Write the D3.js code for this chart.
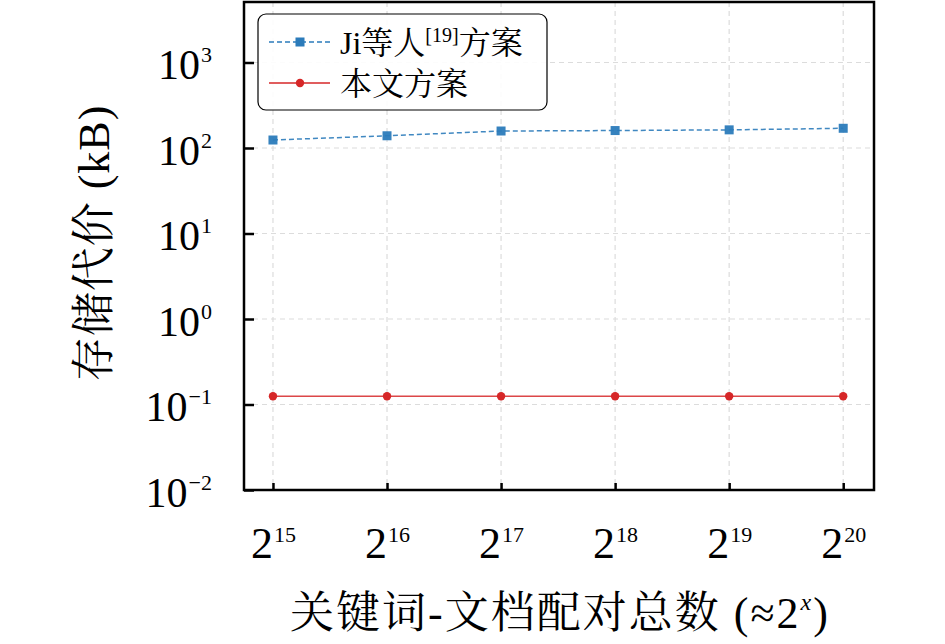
<!DOCTYPE html>
<html><head><meta charset="utf-8">
<script src="https://cdn.jsdelivr.net/npm/d3@7"></script>
<style>body{margin:0;background:#fff}svg{display:block}</style>
</head><body>
<script>
const exponents = [15, 16, 17, 18, 19, 20];
const jiValues = [124, 139, 158, 160, 163, 170];
const oursValues = [0.125, 0.125, 0.125, 0.125, 0.125, 0.125];
const yTickExps = [-2, -1, 0, 1, 2, 3];
const seriesNames = ["Ji等人", "[19]", "方案"];
const oursName = "本文方案";

const W = 945, H = 644;
const L = 244, R = 874, T = 2, B = 490;
const serif = '"Liberation Serif","Times New Roman",serif';
const cjk = '"Liberation Serif","Noto Serif CJK SC","Noto Sans CJK SC",serif';

const svg = d3.select("body").append("svg").attr("width", W).attr("height", H);

const x = d3.scaleLinear().domain([14.746, 20.27]).range([L, R]);
const y = d3.scaleLog().domain([0.01, 5100]).range([B, T]);

// grid
const g = svg.append("g");
g.selectAll(".vg").data(exponents).join("line")
  .attr("x1", d => x(d)).attr("x2", d => x(d)).attr("y1", T).attr("y2", B)
  .attr("stroke", "#dcdcdc").attr("stroke-width", 1.2).attr("stroke-dasharray", "5,4");
g.selectAll(".hg").data(yTickExps).join("line")
  .attr("x1", L).attr("x2", R).attr("y1", d => y(Math.pow(10, d))).attr("y2", d => y(Math.pow(10, d)))
  .attr("stroke", "#dcdcdc").attr("stroke-width", 1.2).attr("stroke-dasharray", "5,4");

// axes
const xAxis = d3.axisBottom(x).tickValues(exponents).tickSize(-7).tickFormat("");
const yAxis = d3.axisLeft(y).tickValues(yTickExps.map(e => Math.pow(10, e))).tickSize(-10).tickFormat("");
const xg = svg.append("g").attr("transform", `translate(0,${B})`).call(xAxis);
const yg = svg.append("g").attr("transform", `translate(${L},0)`).call(yAxis);
[xg, yg].forEach(a => {
  a.select(".domain").remove();
  a.selectAll(".tick line").attr("stroke", "#000").attr("stroke-width", 2.5);
});

// frame
svg.append("rect").attr("x", L).attr("y", T).attr("width", R - L).attr("height", B - T)
  .attr("fill", "none").attr("stroke", "#000").attr("stroke-width", 2.5);

// x tick labels
xg.selectAll(".tick").each(function(d) {
  const t = d3.select(this).append("text").attr("y", 68).attr("text-anchor", "middle")
    .style("font-family", serif).attr("fill", "#000");
  t.append("tspan").attr("font-size", 44).text("2");
  t.append("tspan").attr("font-size", 22).attr("dx", 1).attr("dy", -16).text(d);
});
// y tick labels
yg.selectAll(".tick").each(function(d) {
  const e = Math.round(Math.log10(d));
  const t = d3.select(this).append("text").attr("x", -32).attr("y", 16.5).attr("text-anchor", "end")
    .style("font-family", serif).attr("fill", "#000");
  t.append("tspan").attr("font-size", 42).text("10");
  t.append("tspan").attr("font-size", 22).attr("dx", 1).attr("dy", -17).text(e < 0 ? "\u2212" + (-e) : e);
});

// lines
const pts = vals => vals.map((v, i) => [exponents[i], v]);
const line = d3.line().x(d => x(d[0])).y(d => y(d[1]));
const blue = "#2b7bba", red = "#d62728";
svg.append("path").datum(pts(jiValues)).attr("d", line).attr("fill", "none")
  .attr("stroke", blue).attr("stroke-width", 1.5).attr("stroke-dasharray", "5,3").attr("opacity", 0.9);
svg.selectAll(".sq").data(pts(jiValues)).join("rect")
  .attr("x", d => x(d[0]) - 4.5).attr("y", d => y(d[1]) - 4.5).attr("width", 9).attr("height", 9)
  .attr("fill", blue).attr("opacity", 0.95);
svg.append("path").datum(pts(oursValues)).attr("d", line).attr("fill", "none")
  .attr("stroke", red).attr("stroke-width", 1.5).attr("opacity", 0.85);
svg.selectAll(".ci").data(pts(oursValues)).join("circle")
  .attr("cx", d => x(d[0])).attr("cy", d => y(d[1])).attr("r", 4.2).attr("fill", red);

// legend
const lg = svg.append("g");
lg.append("rect").attr("x", 258).attr("y", 14).attr("width", 289).attr("height", 96).attr("rx", 8)
  .attr("fill", "#fff").attr("fill-opacity", 0.9).attr("stroke", "#000").attr("stroke-width", 1.2);
lg.append("line").attr("x1", 269).attr("x2", 330).attr("y1", 42).attr("y2", 42)
  .attr("stroke", blue).attr("stroke-width", 1.5).attr("stroke-dasharray", "5,3");
lg.append("rect").attr("x", 295.5).attr("y", 37.5).attr("width", 9).attr("height", 9).attr("fill", blue);
lg.append("line").attr("x1", 269).attr("x2", 330).attr("y1", 83).attr("y2", 83)
  .attr("stroke", red).attr("stroke-width", 1.5);
lg.append("circle").attr("cx", 300).attr("cy", 83).attr("r", 4.2).attr("fill", red);
const lt = lg.append("text").attr("x", 340).attr("y", 54).style("font-family", cjk).attr("fill", "#000");
lt.append("tspan").attr("font-size", 32).text(seriesNames[0]);
lt.append("tspan").attr("font-size", 20).attr("dy", -12).text(seriesNames[1]);
lt.append("tspan").attr("font-size", 32).attr("dy", 12).text(seriesNames[2]);
lg.append("text").attr("x", 340).attr("y", 95).style("font-family", cjk).attr("font-size", 32)
  .attr("fill", "#000").text(oursName);

// axis titles
const xt = svg.append("text").attr("x", 560).attr("y", 628).attr("text-anchor", "middle")
  .style("font-family", cjk).style("letter-spacing", "2px").attr("fill", "#000").attr("font-size", 44);
xt.append("tspan").text("关键词-文档配对总数 (≈2");
xt.append("tspan").attr("font-size", 24).attr("font-style", "italic").attr("dy", -18).text("x");
xt.append("tspan").attr("dy", 18).text(")");

svg.append("text").attr("transform", "translate(109,243) rotate(-90)").attr("text-anchor", "middle")
  .style("font-family", cjk).style("letter-spacing", "1px").attr("fill", "#000").attr("font-size", 44).text("存储代价 (kB)");
</script>
</body></html>
